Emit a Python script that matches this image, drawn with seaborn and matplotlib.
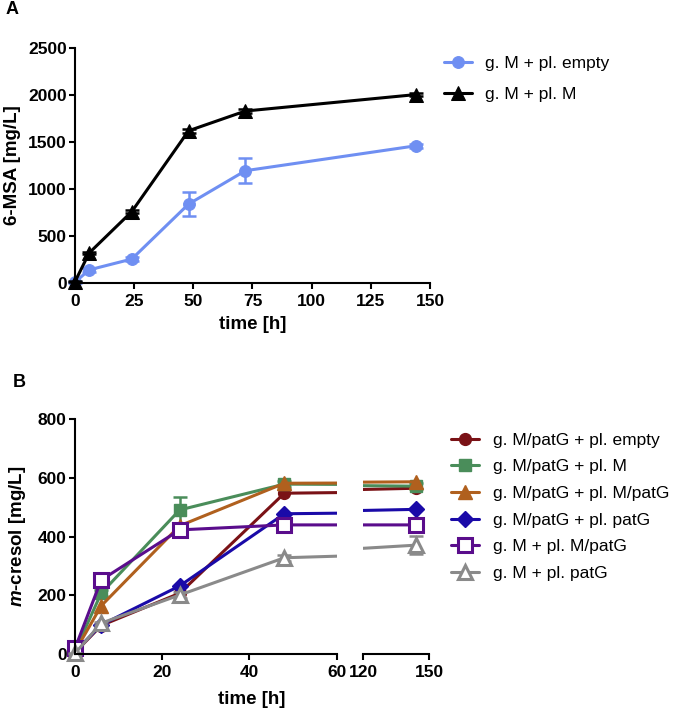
import numpy as np
import matplotlib
matplotlib.use("Agg")
import matplotlib.pyplot as plt
import seaborn as sns
from matplotlib.transforms import Bbox, TransformedBbox

# panel A: 6-MSA titer
time_a = [0, 6, 24, 48, 72, 144]
msa_empty = [10, 140, 255, 840, 1195, 1460]
msa_empty_err = [5, 20, 20, 125, 135, 20]
msa_m = [15, 320, 760, 1620, 1830, 2005]
msa_m_err = [5, 15, 20, 20, 20, 15]
labels_a = ["g. M + pl. empty", "g. M + pl. M"]

# panel B: m-cresol titer
time_b = [0, 6, 24, 48, 144]
cres_patg_empty = [5, 97, 207, 548, 565]
cres_patg_m = [10, 207, 491, 579, 572]
cres_patg_m_err = [5, 10, 45, 10, 10]
cres_patg_mpatg = [8, 164, 437, 582, 587]
cres_patg_patg = [8, 99, 232, 478, 493]
cres_m_mpatg = [19, 252, 423, 440, 440]
cres_m_patg = [2, 105, 201, 328, 371]
cres_m_patg_err = [2, 5, 10, 10, 30]
labels_b = ["g. M/patG + pl. empty", "g. M/patG + pl. M", "g. M/patG + pl. M/patG",
            "g. M/patG + pl. patG", "g. M + pl. M/patG", "g. M + pl. patG"]

sns.set_style("ticks")
plt.rcParams['font.family'] = ['Liberation Sans', 'DejaVu Sans']
plt.rcParams['mathtext.fontset'] = 'custom'
plt.rcParams['mathtext.it'] = 'Liberation Sans:italic:bold'
plt.rcParams['mathtext.rm'] = 'Liberation Sans:bold'
for k in ['text.color', 'axes.labelcolor', 'xtick.color', 'ytick.color',
          'xtick.labelcolor', 'ytick.labelcolor']:
    plt.rcParams[k] = 'black'

FS = 12.5
FSL = 13.5
LW = 2.2


def style_axis(ax):
    for s in ["top", "right"]:
        ax.spines[s].set_visible(False)
    for s in ["left", "bottom"]:
        ax.spines[s].set_linewidth(1.5)
        ax.spines[s].set_color("black")
    ax.tick_params(direction="out", length=4.5, width=1.5, colors="black",
                   labelsize=FS)
    ax.tick_params(axis="y", pad=1.5)
    ax.tick_params(axis="x", pad=3.5)
    for lab in ax.get_xticklabels() + ax.get_yticklabels():
        lab.set_fontweight("bold")


fig = plt.figure(figsize=(6.88, 7.12), dpi=100)

# ---------- panel A ----------
axA = fig.add_axes([0.109, 0.6025, 0.516, 0.330])
series_a = [
    (msa_empty, msa_empty_err, "#6f8ff2", "o", 8.5),
    (msa_m, msa_m_err, "black", "^", 10.5),
]
for (vals, err, col, mk, ms), lab in zip(series_a, labels_a):
    axA.errorbar(time_a, vals, yerr=err, fmt="none", ecolor=col, elinewidth=1.8,
                 capsize=5, capthick=1.8, clip_on=False)
    sns.lineplot(x=time_a, y=vals, ax=axA, color=col, marker=mk, markersize=ms,
                 markeredgecolor=col, markerfacecolor=col, linewidth=LW,
                 label=lab, clip_on=False)
axA.set_xlim(0, 150)
axA.set_ylim(0, 2500)
axA.set_xticks([0, 25, 50, 75, 100, 125, 150])
axA.set_yticks([0, 500, 1000, 1500, 2000, 2500])
axA.set_xlabel("time [h]", fontsize=FSL, fontweight="bold", labelpad=5)
axA.set_ylabel("6-MSA [mg/L]", fontsize=FSL, fontweight="bold", labelpad=5)
style_axis(axA)
axA.legend(loc="upper left", bbox_to_anchor=(0.635, 0.931), bbox_transform=fig.transFigure,
           frameon=False, fontsize=FS, handlelength=1.6, handletextpad=0.8,
           labelspacing=0.9, borderaxespad=0)
fig.text(0.008, 0.986, "A", fontsize=13, fontweight="bold", va="center")

# ---------- panel B (broken x axis) ----------
axL = fig.add_axes([0.109, 0.0815, 0.3804, 0.3296])
axR = fig.add_axes([0.528, 0.0815, 0.0959, 0.3296], sharey=axL)

series_b = [
    (cres_patg_empty, None, "#7a1216", "o", 8.5, True),
    (cres_patg_m, cres_patg_m_err, "#4a8d5a", "s", 8.5, True),
    (cres_patg_mpatg, None, "#b0601e", "^", 10.0, True),
    (cres_patg_patg, None, "#1a0aa8", "D", 8.0, True),
    (cres_m_mpatg, None, "#5a0d8c", "s", 9.5, False),
    (cres_m_patg, cres_m_patg_err, "#8a8a8a", "^", 10.0, False),
]
for ax, side in [(axL, "L"), (axR, "R")]:
    for (vals, err, col, mk, ms, filled), lab in zip(series_b, labels_b):
        if err is not None:
            ax.errorbar(time_b, vals, yerr=err, fmt="none", ecolor=col, elinewidth=1.8,
                        capsize=5, capthick=1.8)
        sns.lineplot(x=time_b, y=vals, ax=ax, color=col, marker=mk, markersize=ms,
                     markeredgecolor=col, markerfacecolor=col if filled else "white",
                     markeredgewidth=1.0 if filled else 2.2, linewidth=LW,
                     label=lab if side == "L" else None)
    # let markers spill over the outer edges but cut lines at the break
    box = [[-0.1, -0.1], [1.0, 1.1]] if side == "L" else [[0.0, -0.1], [1.3, 1.1]]
    clip = TransformedBbox(Bbox(box), ax.transAxes)
    for art in ax.lines + ax.collections:
        art.set_clip_box(clip)

axL.set_xlim(0, 60)
axR.set_xlim(120, 150)
axL.set_ylim(0, 800)
axL.set_xticks([0, 20, 40, 60])
axR.set_xticks([120, 150])
axL.set_yticks([0, 200, 400, 600, 800])
axL.set_ylabel(r"$\mathit{m}$-cresol [mg/L]", fontsize=FSL, fontweight="bold", labelpad=7)
axL.set_xlabel("")
style_axis(axL)
style_axis(axR)
axR.spines["left"].set_visible(False)
axR.tick_params(axis="y", left=False, labelleft=False)
if axR.get_legend():
    axR.get_legend().remove()
fig.text(0.366, 0.017, "time [h]", fontsize=FSL, fontweight="bold", ha="center", va="center")
axL.legend(loc="upper left", bbox_to_anchor=(0.646, 0.402), bbox_transform=fig.transFigure,
           frameon=False, fontsize=FS, handlelength=1.6, handletextpad=0.8,
           labelspacing=0.66, borderaxespad=0)
fig.text(0.018, 0.463, "B", fontsize=13, fontweight="bold", va="center")

fig.savefig("out.png", dpi=100)
